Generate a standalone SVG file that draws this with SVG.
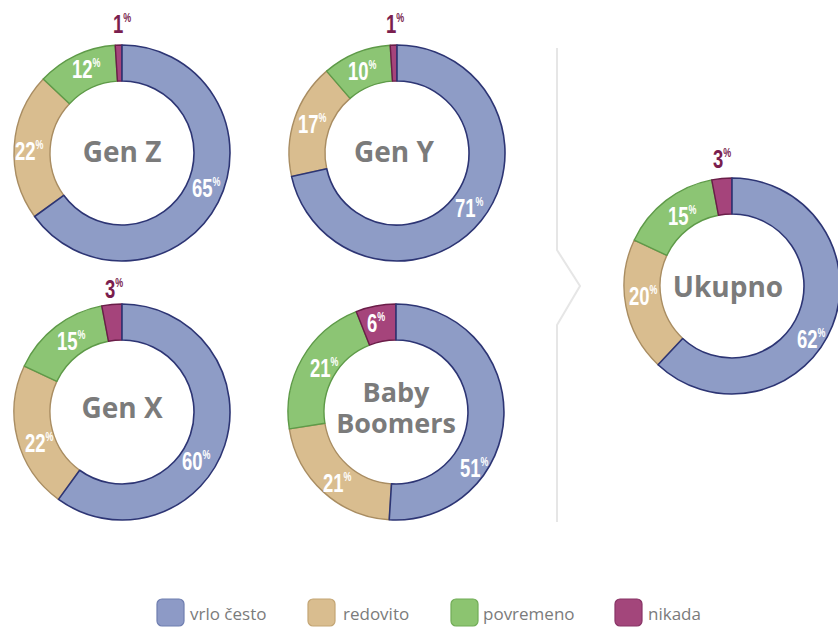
<svg xmlns="http://www.w3.org/2000/svg" width="838" height="628" viewBox="0 0 838 628">
<style>
.bg{fill:#ffffff}
.s-blue{fill:#8e9cc6;stroke:#2d3574;stroke-width:1.6;stroke-linejoin:round}
.s-tan{fill:#d9bd8f;stroke:#a98d62;stroke-width:1.4;stroke-linejoin:round}
.s-green{fill:#8cc574;stroke:#5e9a48;stroke-width:1.4;stroke-linejoin:round}
.s-purple{fill:#a5447b;stroke:#6a1d48;stroke-width:1.4;stroke-linejoin:round}
.pv{font-family:"Liberation Sans","Arial",sans-serif;font-weight:bold;font-size:25px;fill:#ffffff}
.pv.out{fill:#7a1e4e}
.pc{font-size:12px}
.ctr{font-family:"Open Sans","Noto Sans","Liberation Sans",sans-serif;font-weight:bold;font-size:28px;fill:#7b7b7b;text-anchor:middle}
.ctr.two{font-size:27px}
.lg{font-family:"Open Sans","Noto Sans","Liberation Sans",sans-serif;font-size:17px;fill:#7b7b7b}
.divider{fill:none;stroke:#e6e6e6;stroke-width:2}
</style>
<rect class="bg" x="0" y="0" width="838" height="628"/>

<g id="divider">
<polyline class="divider" points="557,48 557,250 580,286 557,325 557,522"/>
</g>

<g id="gen-z">
<g transform="translate(122,153)">
<path class="s-tan" d="M-87.37,63.48 A108,108 0 0 1 -78.73,-73.93 L-52.49,-49.29 A72,72 0 0 0 -58.25,42.32 Z"/>
<path class="s-green" d="M-78.73,-73.93 A108,108 0 0 1 -6.78,-107.79 L-4.52,-71.86 A72,72 0 0 0 -52.49,-49.29 Z"/>
<path class="s-purple" d="M-6.78,-107.79 A108,108 0 0 1 0,-108 L0,-72 A72,72 0 0 0 -4.52,-71.86 Z"/>
<path class="s-blue" d="M0,-108 A108,108 0 1 1 -87.37,63.48 L-58.25,42.32 A72,72 0 1 0 0,-72 Z"/>
</g>
<text class="ctr" x="122" y="162">Gen Z</text>
<text class="pv out" transform="translate(113,33) scale(0.74,1)">1<tspan class="pc" dy="-11">%</tspan></text>
<text class="pv" transform="translate(72,78) scale(0.74,1)">12<tspan class="pc" dy="-11">%</tspan></text>
<text class="pv" transform="translate(15,160) scale(0.74,1)">22<tspan class="pc" dy="-11">%</tspan></text>
<text class="pv" transform="translate(192,197) scale(0.74,1)">65<tspan class="pc" dy="-11">%</tspan></text>
</g>

<g id="gen-y">
<g transform="translate(397,153)">
<path class="s-tan" d="M-105.40,23.56 A108,108 0 0 1 -70.40,-81.90 L-46.93,-54.60 A72,72 0 0 0 -70.27,15.71 Z"/>
<path class="s-green" d="M-70.40,-81.90 A108,108 0 0 1 -6.78,-107.79 L-4.52,-71.86 A72,72 0 0 0 -46.93,-54.60 Z"/>
<path class="s-purple" d="M-6.78,-107.79 A108,108 0 0 1 0,-108 L0,-72 A72,72 0 0 0 -4.52,-71.86 Z"/>
<path class="s-blue" d="M0,-108 A108,108 0 1 1 -105.40,23.56 L-70.27,15.71 A72,72 0 1 0 0,-72 Z"/>
</g>
<text class="ctr" x="394" y="162">Gen Y</text>
<text class="pv out" transform="translate(386,33) scale(0.74,1)">1<tspan class="pc" dy="-11">%</tspan></text>
<text class="pv" transform="translate(348,80) scale(0.74,1)">10<tspan class="pc" dy="-11">%</tspan></text>
<text class="pv" transform="translate(298,133) scale(0.74,1)">17<tspan class="pc" dy="-11">%</tspan></text>
<text class="pv" transform="translate(455,217) scale(0.74,1)">71<tspan class="pc" dy="-11">%</tspan></text>
</g>

<g id="gen-x">
<g transform="translate(122,412)">
<path class="s-tan" d="M-63.48,87.37 A108,108 0 0 1 -97.72,-45.98 L-65.15,-30.66 A72,72 0 0 0 -42.32,58.25 Z"/>
<path class="s-green" d="M-97.72,-45.98 A108,108 0 0 1 -20.24,-106.09 L-13.49,-70.72 A72,72 0 0 0 -65.15,-30.66 Z"/>
<path class="s-purple" d="M-20.24,-106.09 A108,108 0 0 1 0,-108 L0,-72 A72,72 0 0 0 -13.49,-70.72 Z"/>
<path class="s-blue" d="M0,-108 A108,108 0 1 1 -63.48,87.37 L-42.32,58.25 A72,72 0 1 0 0,-72 Z"/>
</g>
<text class="ctr" x="122" y="418">Gen X</text>
<text class="pv out" transform="translate(105,298) scale(0.74,1)">3<tspan class="pc" dy="-11">%</tspan></text>
<text class="pv" transform="translate(57,350) scale(0.74,1)">15<tspan class="pc" dy="-11">%</tspan></text>
<text class="pv" transform="translate(25,452) scale(0.74,1)">22<tspan class="pc" dy="-11">%</tspan></text>
<text class="pv" transform="translate(182,470) scale(0.74,1)">60<tspan class="pc" dy="-11">%</tspan></text>
</g>

<g id="baby-boomers">
<g transform="translate(396,412)">
<path class="s-tan" d="M-6.78,107.79 A108,108 0 0 1 -106.67,16.89 L-71.11,11.26 A72,72 0 0 0 -4.52,71.86 Z"/>
<path class="s-green" d="M-106.67,16.89 A108,108 0 0 1 -39.76,-100.42 L-26.50,-66.94 A72,72 0 0 0 -71.11,11.26 Z"/>
<path class="s-purple" d="M-39.76,-100.42 A108,108 0 0 1 0,-108 L0,-72 A72,72 0 0 0 -26.50,-66.94 Z"/>
<path class="s-blue" d="M0,-108 A108,108 0 1 1 -6.78,107.79 L-4.52,71.86 A72,72 0 1 0 0,-72 Z"/>
</g>
<text class="ctr two"><tspan x="396" y="402">Baby</tspan><tspan x="396" y="433">Boomers</tspan></text>
<text class="pv" transform="translate(367,332) scale(0.74,1)">6<tspan class="pc" dy="-11">%</tspan></text>
<text class="pv" transform="translate(310,377) scale(0.74,1)">21<tspan class="pc" dy="-11">%</tspan></text>
<text class="pv" transform="translate(323,492) scale(0.74,1)">21<tspan class="pc" dy="-11">%</tspan></text>
<text class="pv" transform="translate(460,477) scale(0.74,1)">51<tspan class="pc" dy="-11">%</tspan></text>
</g>

<g id="ukupno">
<g transform="translate(732,286)">
<path class="s-tan" d="M-73.93,78.73 A108,108 0 0 1 -97.72,-45.98 L-65.15,-30.66 A72,72 0 0 0 -49.29,52.49 Z"/>
<path class="s-green" d="M-97.72,-45.98 A108,108 0 0 1 -20.24,-106.09 L-13.49,-70.72 A72,72 0 0 0 -65.15,-30.66 Z"/>
<path class="s-purple" d="M-20.24,-106.09 A108,108 0 0 1 0,-108 L0,-72 A72,72 0 0 0 -13.49,-70.72 Z"/>
<path class="s-blue" d="M0,-108 A108,108 0 1 1 -73.93,78.73 L-49.29,52.49 A72,72 0 1 0 0,-72 Z"/>
</g>
<text class="ctr" x="728" y="297">Ukupno</text>
<text class="pv out" transform="translate(713,168) scale(0.74,1)">3<tspan class="pc" dy="-11">%</tspan></text>
<text class="pv" transform="translate(668,225) scale(0.74,1)">15<tspan class="pc" dy="-11">%</tspan></text>
<text class="pv" transform="translate(629,305) scale(0.74,1)">20<tspan class="pc" dy="-11">%</tspan></text>
<text class="pv" transform="translate(797,348) scale(0.74,1)">62<tspan class="pc" dy="-11">%</tspan></text>
</g>

<g id="legend">
<rect x="157" y="599" width="27" height="27" rx="5" fill="#8d9ac6" stroke="#6f7eb0" stroke-width="1.2"/>
<text class="lg" x="190" y="620">vrlo često</text>
<rect x="308" y="599" width="27" height="27" rx="5" fill="#d9bd8f" stroke="#c3a574" stroke-width="1.2"/>
<text class="lg" x="343" y="620">redovito</text>
<rect x="451" y="599" width="27" height="27" rx="5" fill="#8cc470" stroke="#71ac57" stroke-width="1.2"/>
<text class="lg" x="483" y="620">povremeno</text>
<rect x="615" y="599" width="27" height="27" rx="5" fill="#a3467b" stroke="#883466" stroke-width="1.2"/>
<text class="lg" x="648" y="620">nikada</text>
</g>
</svg>
